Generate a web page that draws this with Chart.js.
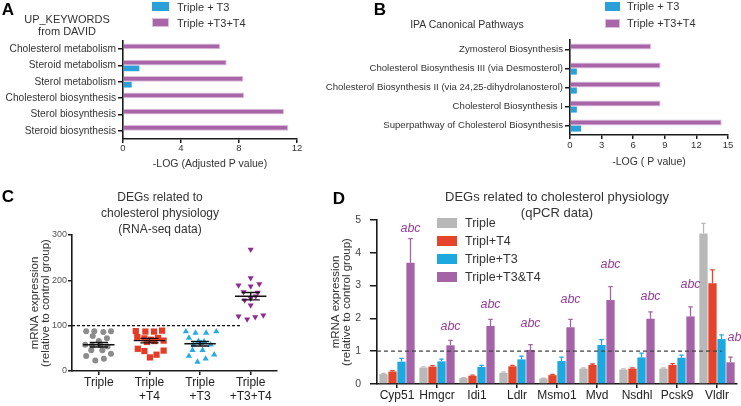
<!DOCTYPE html>
<html>
<head>
<meta charset="utf-8">
<script src="https://cdn.jsdelivr.net/npm/chart.js@4.4.0/dist/chart.umd.min.js"></script>
<style>
  body { margin: 0; background: #fff; font-family: "Liberation Sans", Arial, sans-serif; color: #333; }
  #fig { position: relative; width: 741px; height: 406px; overflow: hidden; }
  canvas { position: absolute; }
  .c { position: absolute; white-space: nowrap; text-align: center; transform: translate(-50%, -50%); }
  .letter { position: absolute; font-weight: bold; font-size: 17px; color: #000; transform: translate(-50%, -50%); }
  .lbox { position: absolute; box-sizing: border-box; }
  .ltxt { position: absolute; white-space: nowrap; transform: translateY(-50%); }
</style>
</head>
<body>
<div id="fig">
  <canvas id="chartA" width="370" height="175" style="left:0;top:0"></canvas>
  <canvas id="chartB" width="441" height="175" style="left:300px;top:0"></canvas>
  <canvas id="chartC" width="300" height="226" style="left:0;top:180px"></canvas>
  <canvas id="chartD" width="421" height="226" style="left:320px;top:180px"></canvas>

  <div class="letter" style="left:8px;top:10px">A</div>
  <div class="letter" style="left:380px;top:10px">B</div>
  <div class="letter" style="left:8px;top:197px">C</div>
  <div class="letter" style="left:339px;top:199px">D</div>

  <div class="c" style="left:67px;top:25px;font-size:11px;line-height:11.5px">UP_KEYWORDS<br>from DAVID</div>
  <div class="c" style="left:467px;top:24px;font-size:10.5px">IPA Canonical Pathways</div>
  <div class="c" style="left:160px;top:213px;font-size:12px;line-height:16px">DEGs related to<br>cholesterol physiology<br>(RNA-seq data)</div>
  <div class="c" style="left:557px;top:205px;font-size:13px;line-height:16px">DEGs related to cholesterol physiology<br>(qPCR data)</div>
</div>

<script>
// ---- A: UP_KEYWORDS from DAVID ----
const davidTerms = ['Cholesterol metabolism', 'Steroid metabolism', 'Sterol metabolism',
    'Cholesterol biosynthesis', 'Sterol biosynthesis', 'Steroid biosynthesis'];
const davidT3 = [0, 1.13, 0.6, 0, 0, 0];
const davidT3T4 = [6.7, 7.15, 8.3, 8.35, 11.1, 11.4];
const davidTicks = [0, 4, 8, 12];

// ---- B: IPA canonical pathways ----
const ipaTerms = ['Zymosterol Biosynthesis', 'Cholesterol Biosynthesis III (via Desmosterol)',
    'Cholesterol Biosynthesis II (via 24,25-dihydrolanosterol)', 'Cholesterol Biosynthesis I',
    'Superpathway of Cholesterol Biosynthesis'];
const ipaT3 = [0, 0.65, 0.65, 0.65, 1.05];
const ipaT3T4 = [7.7, 8.6, 8.6, 8.6, 14.4];
const ipaTicks = [0, 3, 6, 9, 12, 15];

// ---- C: RNA-seq dot plot (value, x jitter within group) ----
const rnaGroups = [['Triple'], ['Triple', '+T4'], ['Triple', '+T3'], ['Triple', '+T3+T4']];
const rnaTriple = [87.5, 87.5, 86, 87.5, 77, 66, 72, 58, 56, 57, 54, 46, 46, 38, 33, 23, 27];
const rnaTripleJit = [-0.25, -0.09, 0.09, 0.24, -0.12, 0, 0.16, -0.27, -0.13, 0.03, 0.17, -0.15, 0.07, 0.24, -0.25, -0.07, 0.1];
const rnaT4 = [88, 87, 87, 89, 75, 72, 69, 73, 67, 64, 49, 44, 45, 36, 30, 66];
const rnaT4Jit = [-0.27, -0.08, 0.09, 0.25, -0.24, -0.1, 0.03, 0.17, 0.28, -0.05, -0.23, -0.1, 0.28, 0.14, 0.01, 0.1];
const rnaT3 = [87, 84, 84, 87, 73, 66, 65, 58, 58, 46, 46, 33, 36, 27, 20, 62];
const rnaT3Jit = [-0.28, -0.09, 0.12, 0.32, -0.22, -0.03, 0.08, -0.13, 0.21, -0.15, 0.05, -0.22, 0.28, 0.11, -0.05, 0.02];
const rnaT3T4 = [268, 205, 189, 187, 192, 174, 173, 160, 156, 145, 121, 114, 119, 123, 165];
const rnaT3T4Jit = [0, 0, -0.24, 0, 0.17, -0.14, 0.14, 0, -0.12, 0, -0.24, -0.07, 0.09, 0.25, 0.1];
const rnaMean = [58, 67, 60, 165];
const rnaSem = [5, 5, 5, 8];
const rnaTicks = [0, 100, 200, 300];
const rnaControl = 100;

// ---- D: qPCR bars ----
const genes = ['Cyp51', 'Hmgcr', 'Idi1', 'Ldlr', 'Msmo1', 'Mvd', 'Nsdhl', 'Pcsk9', 'Vldlr'];
const qTriple = [0.30, 0.50, 0.18, 0.34, 0.17, 0.47, 0.44, 0.47, 4.59];
const qTripleErr = [0.02, 0.02, 0.01, 0.02, 0.01, 0.02, 0.02, 0.02, 0.31];
const qT4 = [0.38, 0.53, 0.25, 0.54, 0.27, 0.58, 0.47, 0.58, 3.07];
const qT4Err = [0.03, 0.03, 0.02, 0.03, 0.02, 0.03, 0.02, 0.04, 0.41];
const qT3 = [0.68, 0.69, 0.52, 0.75, 0.70, 1.19, 0.81, 0.80, 1.37];
const qT3Err = [0.10, 0.07, 0.05, 0.10, 0.12, 0.16, 0.13, 0.08, 0.13];
const qT3T4 = [3.70, 1.18, 1.77, 1.04, 1.73, 2.56, 1.99, 2.06, 0.66];
const qT3T4Err = [0.73, 0.15, 0.20, 0.16, 0.24, 0.41, 0.21, 0.29, 0.16];
const qSig = ['abc', 'abc', 'abc', 'abc', 'abc', 'abc', 'abc', 'abc', 'ab'];
const qSigAt = [4.75, 1.75, 2.43, 1.85, 2.58, 3.65, 2.68, 3.02, 1.41];
const qTicks = [0, 1, 2, 3, 4, 5];
const qControl = 1;

const AXIS = '#1a1a1a';
const TXT = '#333';
const FONT = '"Liberation Sans", Arial, sans-serif';
Chart.defaults.font.family = FONT;

const BLUE = '#2a9fd8', PURPLE = '#a866a8', PURPLE_EDGE = '#dcbddc';

function fixedTicks(list) {
    return s => { s.ticks = list.map(v => ({ value: v })); };
}

function pathwayChart(id, terms, t3, t34, ticks, xTitle, lay) {
    return new Chart(document.getElementById(id), {
        type: 'bar',
        data: {
            labels: terms,
            datasets: [
                { label: 'Triple +T3+T4', data: t34, backgroundColor: PURPLE, borderColor: PURPLE_EDGE, borderWidth: 1 },
                { label: 'Triple + T3', data: t3, backgroundColor: BLUE, borderWidth: 0 }
            ]
        },
        options: {
            indexAxis: 'y', responsive: false, animation: false,
            layout: { padding: lay.pad },
            datasets: { bar: { categoryPercentage: lay.cat, barPercentage: 1 } },
            plugins: { legend: { display: false }, tooltip: { enabled: false } },
            scales: {
                x: {
                    type: 'linear', min: ticks[0], max: ticks[ticks.length - 1],
                    afterBuildTicks: fixedTicks(ticks),
                    afterFit: s => { s.height = lay.xh; },
                    grid: { drawOnChartArea: false, tickLength: 4, color: AXIS, lineWidth: 1.5 },
                    border: { color: AXIS, width: 1.6 },
                    ticks: { color: TXT, font: { size: 9.5 }, padding: lay.xpad, maxRotation: 0 },
                    title: { display: true, text: xTitle, color: TXT, font: { size: 10.5 }, padding: { top: 0, bottom: lay.tpad } }
                },
                y: {
                    afterFit: s => { s.width = lay.yw; },
                    grid: { offset: false, drawOnChartArea: false, tickLength: 5, color: AXIS, lineWidth: 1.5 },
                    border: { color: AXIS, width: 1.6 },
                    ticks: { color: TXT, font: { size: lay.fs }, padding: 2, autoSkip: false }
                }
            }
        }
    });
}

const chartA = pathwayChart('chartA', davidTerms, davidT3, davidT3T4, davidTicks, '-LOG (Adjusted P value)',
    { pad: { left: 0, top: 41, right: 73, bottom: 0 }, cat: 0.7, xh: 36, yw: 123, xpad: 0, tpad: 5, fs: 10.2 });
const chartB = pathwayChart('chartB', ipaTerms, ipaT3, ipaT3T4, ipaTicks, '-LOG ( P value)',
    { pad: { left: 0, top: 40, right: 13, bottom: 0 }, cat: 0.64, xh: 40, yw: 270, xpad: 1, tpad: 7, fs: 9.6 });

// ---- C chart ----
const rnaSets = [
    { vals: rnaTriple, jit: rnaTripleJit, color: '#8c8c8c', style: 'circle', r: 3, rot: 0 },
    { vals: rnaT4, jit: rnaT4Jit, color: '#e33b26', style: 'rect', r: 4.4, rot: 0 },
    { vals: rnaT3, jit: rnaT3Jit, color: '#29a9e6', style: 'triangle', r: 3.6, rot: 0 },
    { vals: rnaT3T4, jit: rnaT3T4Jit, color: '#8e2d8f', style: 'triangle', r: 3.5, rot: 180 }
];

const rnaMarks = {
    id: 'rnaMarks',
    beforeDatasetsDraw(chart) {
        const { ctx, scales: { x, y } } = chart;
        ctx.save();
        ctx.strokeStyle = '#111';
        ctx.lineWidth = 1.2;
        ctx.setLineDash([3, 2]);
        const yc = y.getPixelForValue(rnaControl);
        ctx.beginPath();
        ctx.moveTo(x.left, yc);
        ctx.lineTo(x.getPixelForValue(2.83), yc);
        ctx.stroke();
        ctx.restore();
    },
    afterDatasetsDraw(chart) {
        const { ctx, scales: { x, y } } = chart;
        const unit = x.getPixelForValue(1) - x.getPixelForValue(0);
        ctx.save();
        ctx.strokeStyle = '#111';
        ctx.lineWidth = 1.4;
        rnaMean.forEach((m, g) => {
            const xc = x.getPixelForValue(g);
            const ym = y.getPixelForValue(m);
            const yh = y.getPixelForValue(m + rnaSem[g]);
            const yl = y.getPixelForValue(m - rnaSem[g]);
            ctx.beginPath();
            ctx.moveTo(xc - 0.31 * unit, ym); ctx.lineTo(xc + 0.31 * unit, ym);
            ctx.moveTo(xc, yh); ctx.lineTo(xc, yl);
            ctx.moveTo(xc - 0.18 * unit, yh); ctx.lineTo(xc + 0.18 * unit, yh);
            ctx.moveTo(xc - 0.18 * unit, yl); ctx.lineTo(xc + 0.18 * unit, yl);
            ctx.stroke();
        });
        ctx.restore();
    }
};

const chartC = new Chart(document.getElementById('chartC'), {
    type: 'scatter',
    data: {
        datasets: rnaSets.map((s, g) => ({
            data: s.vals.map((v, i) => ({ x: g + s.jit[i], y: v })),
            pointStyle: s.style, pointRadius: s.r, pointRotation: s.rot,
            backgroundColor: s.color, borderColor: s.color, borderWidth: 0
        }))
    },
    options: {
        responsive: false, animation: false,
        layout: { padding: { left: 29, top: 55, right: 23, bottom: 0 } },
        plugins: { legend: { display: false }, tooltip: { enabled: false } },
        scales: {
            x: {
                type: 'linear', min: -0.53, max: 3.52,
                afterBuildTicks: fixedTicks(rnaGroups.map((_, i) => i)),
                afterFit: s => { s.height = 35; },
                grid: { drawOnChartArea: false, tickLength: 4, color: AXIS, lineWidth: 1.5 },
                border: { color: AXIS, width: 1.6 },
                ticks: { color: '#222', font: { size: 12, lineHeight: 1.1 }, padding: 1.4, maxRotation: 0,
                    callback: v => rnaGroups[v] }
            },
            y: {
                min: 0, max: 300,
                afterBuildTicks: fixedTicks(rnaTicks),
                afterFit: s => { s.width = 43; },
                grid: { drawOnChartArea: false, tickLength: 4, color: AXIS, lineWidth: 1.5 },
                border: { color: AXIS, width: 1.6 },
                ticks: { color: '#555', font: { size: 9 }, padding: 1 },
                title: { display: true, text: ['mRNA expression', '(relative to control group)'], color: TXT,
                    font: { size: 11.5, lineHeight: 1 }, padding: { top: 0, bottom: 0 } }
            }
        }
    },
    plugins: [rnaMarks]
});

// ---- D chart ----
const qpcrMarks = {
    id: 'qpcrMarks',
    afterDatasetsDraw(chart) {
        const { ctx, scales: { x, y } } = chart;
        ctx.save();
        // error bars
        chart.data.datasets.forEach((ds, i) => {
            const meta = chart.getDatasetMeta(i);
            ctx.strokeStyle = ds.backgroundColor;
            ctx.lineWidth = 1.3;
            meta.data.forEach((bar, j) => {
                const top = y.getPixelForValue(ds.data[j] + ds.err[j]);
                ctx.beginPath();
                ctx.moveTo(bar.x, bar.y); ctx.lineTo(bar.x, top);
                ctx.moveTo(bar.x - 2.2, top); ctx.lineTo(bar.x + 2.2, top);
                ctx.stroke();
            });
        });
        // control level
        ctx.strokeStyle = '#444';
        ctx.lineWidth = 1.3;
        ctx.setLineDash([4, 3]);
        const yc = y.getPixelForValue(qControl);
        ctx.beginPath();
        ctx.moveTo(x.left, yc);
        ctx.lineTo(x.getPixelForValue(8.12), yc);
        ctx.stroke();
        ctx.setLineDash([]);
        // significance letters over the T3&T4 bars
        const meta = chart.getDatasetMeta(3);
        ctx.fillStyle = '#933f95';
        ctx.font = 'italic 12.5px ' + FONT;
        ctx.textBaseline = 'middle';
        qSig.forEach((t, j) => {
            const bx = meta.data[j].x;
            ctx.textAlign = t === 'ab' ? 'left' : 'center';
            ctx.fillText(t, t === 'ab' ? bx - 3 : bx, y.getPixelForValue(qSigAt[j]));
        });
        ctx.restore();
    }
};

const chartD = new Chart(document.getElementById('chartD'), {
    type: 'bar',
    data: {
        labels: genes,
        datasets: [
            { label: 'Triple', data: qTriple, err: qTripleErr, backgroundColor: '#b8b8b8' },
            { label: 'Tripl+T4', data: qT4, err: qT4Err, backgroundColor: '#e5432a' },
            { label: 'Triple+T3', data: qT3, err: qT3Err, backgroundColor: '#1ea8e0' },
            { label: 'Triple+T3&T4', data: qT3T4, err: qT3T4Err, backgroundColor: '#a463a6' }
        ]
    },
    options: {
        responsive: false, animation: false,
        layout: { padding: { left: 10, top: 40, right: 4, bottom: 0 } },
        datasets: { bar: { categoryPercentage: 0.9, barPercentage: 0.92 } },
        plugins: { legend: { display: false }, tooltip: { enabled: false } },
        scales: {
            x: {
                afterFit: s => { s.height = 22; },
                grid: { offset: false, drawOnChartArea: false, tickLength: 4, color: AXIS, lineWidth: 1.5 },
                border: { color: AXIS, width: 1.6 },
                ticks: { color: '#222', font: { size: 12 }, padding: 0.6, maxRotation: 0, autoSkip: false }
            },
            y: {
                min: 0, max: 5,
                afterBuildTicks: fixedTicks(qTicks),
                afterFit: s => { s.width = 47; },
                grid: { drawOnChartArea: false, tickLength: 7, color: AXIS, lineWidth: 1.5 },
                border: { color: AXIS, width: 1.6 },
                ticks: { color: '#444', font: { size: 10.5 }, padding: 9 },
                title: { display: true, text: ['mRNA expression', '(relative to control group)'], color: TXT,
                    font: { size: 11.5, lineHeight: 1 }, padding: { top: 0, bottom: 0 } }
            }
        }
    },
    plugins: [qpcrMarks]
});

// ---- HTML legends built from the chart datasets ----
function htmlLegend(chart, o) {
    const fig = document.getElementById('fig');
    let items = chart.data.datasets.map(ds => ({ text: ds.label, fill: ds.backgroundColor, edge: ds.borderWidth ? ds.borderColor : null }));
    if (o.reverse) items = items.reverse();
    items.forEach((it, i) => {
        const cy = o.y + i * o.step;
        const box = document.createElement('div');
        box.className = 'lbox';
        box.style.cssText = `left:${o.x}px;top:${cy - o.bh / 2}px;width:${o.bw}px;height:${o.bh}px;background:${it.fill};` +
            (it.edge ? `border:1px solid ${it.edge};` : '');
        const txt = document.createElement('div');
        txt.className = 'ltxt';
        txt.style.cssText = `left:${o.tx}px;top:${cy}px;font-size:${o.fs}px;`;
        txt.textContent = it.text;
        fig.appendChild(box);
        fig.appendChild(txt);
    });
}

htmlLegend(chartA, { reverse: true, x: 152, y: 6.7, step: 16, bw: 17, bh: 9, tx: 177, fs: 11 });
htmlLegend(chartB, { reverse: true, x: 605, y: 6, step: 17, bw: 15, bh: 9, tx: 627, fs: 11 });
htmlLegend(chartD, { reverse: false, x: 437, y: 223, step: 18, bw: 20, bh: 10, tx: 465, fs: 12.5 });
</script>
</body>
</html>
